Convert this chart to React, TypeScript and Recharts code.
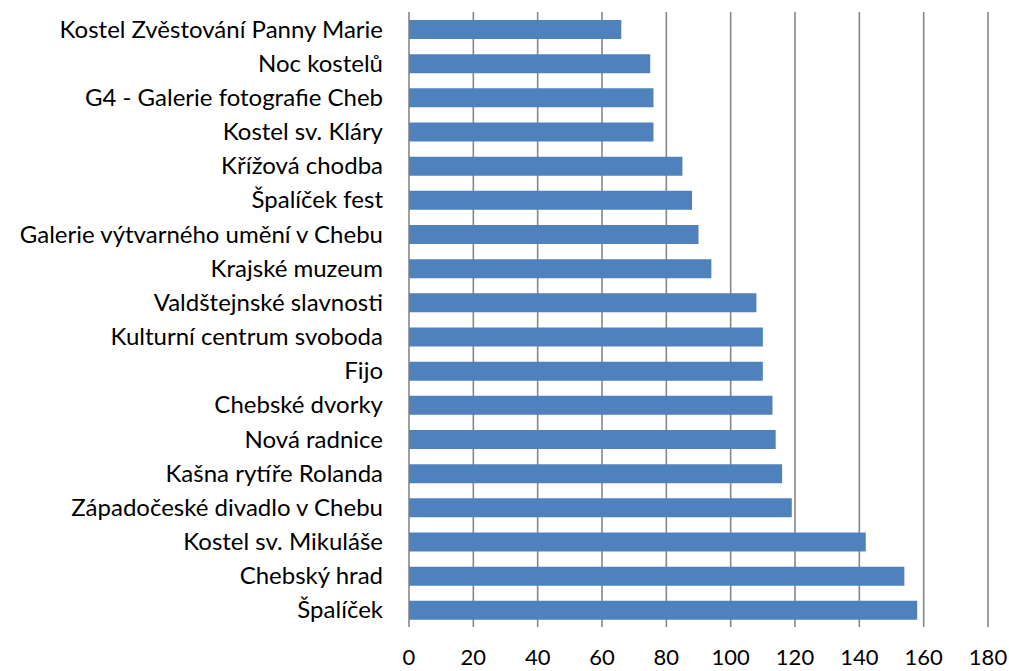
import { BarChart, Bar, XAxis, YAxis, CartesianGrid } from "recharts";

const places = [
  "Kostel Zvěstování Panny Marie",
  "Noc kostelů",
  "G4 - Galerie fotografie Cheb",
  "Kostel sv. Kláry",
  "Křížová chodba",
  "Špalíček fest",
  "Galerie výtvarného umění v Chebu",
  "Krajské muzeum",
  "Valdštejnské slavnosti",
  "Kulturní centrum svoboda",
  "Fijo",
  "Chebské dvorky",
  "Nová radnice",
  "Kašna rytíře Rolanda",
  "Západočeské divadlo v Chebu",
  "Kostel sv. Mikuláše",
  "Chebský hrad",
  "Špalíček",
];

const counts = [66, 75, 76, 76, 85, 88, 90, 94, 108, 110, 110, 113, 114, 116, 119, 142, 154, 158];

const xTicks = [0, 20, 40, 60, 80, 100, 120, 140, 160, 180];

const data = places.map((name, i) => ({ name, value: counts[i] }));

const font = "Lato, 'Open Sans', sans-serif";

export default function App() {
  return (
    <div style={{ position: "absolute", left: 0, top: 0, background: "#fff" }}>
      <BarChart
        width={1009}
        height={671}
        data={data}
        layout="vertical"
        margin={{ top: 12, right: 21, bottom: 0, left: 0 }}
        barSize={19}
      >
        <CartesianGrid horizontal={false} stroke="#878787" strokeWidth={1.6} />
        <XAxis
          type="number"
          domain={[0, 180]}
          ticks={xTicks}
          interval={0}
          axisLine={false}
          tickLine={false}
          tickSize={0}
          tickMargin={22}
          height={44}
          tick={{ fill: "#000", fontSize: 22, fontFamily: font }}
        />
        <YAxis
          type="category"
          dataKey="name"
          width={409}
          axisLine={false}
          tickLine={false}
          tickSize={0}
          tickMargin={26}
          interval={0}
          tick={{ fill: "#000", fontSize: 24, fontFamily: font }}
        />
        <Bar dataKey="value" fill="#4F81BD" isAnimationActive={false} />
      </BarChart>
    </div>
  );
}
